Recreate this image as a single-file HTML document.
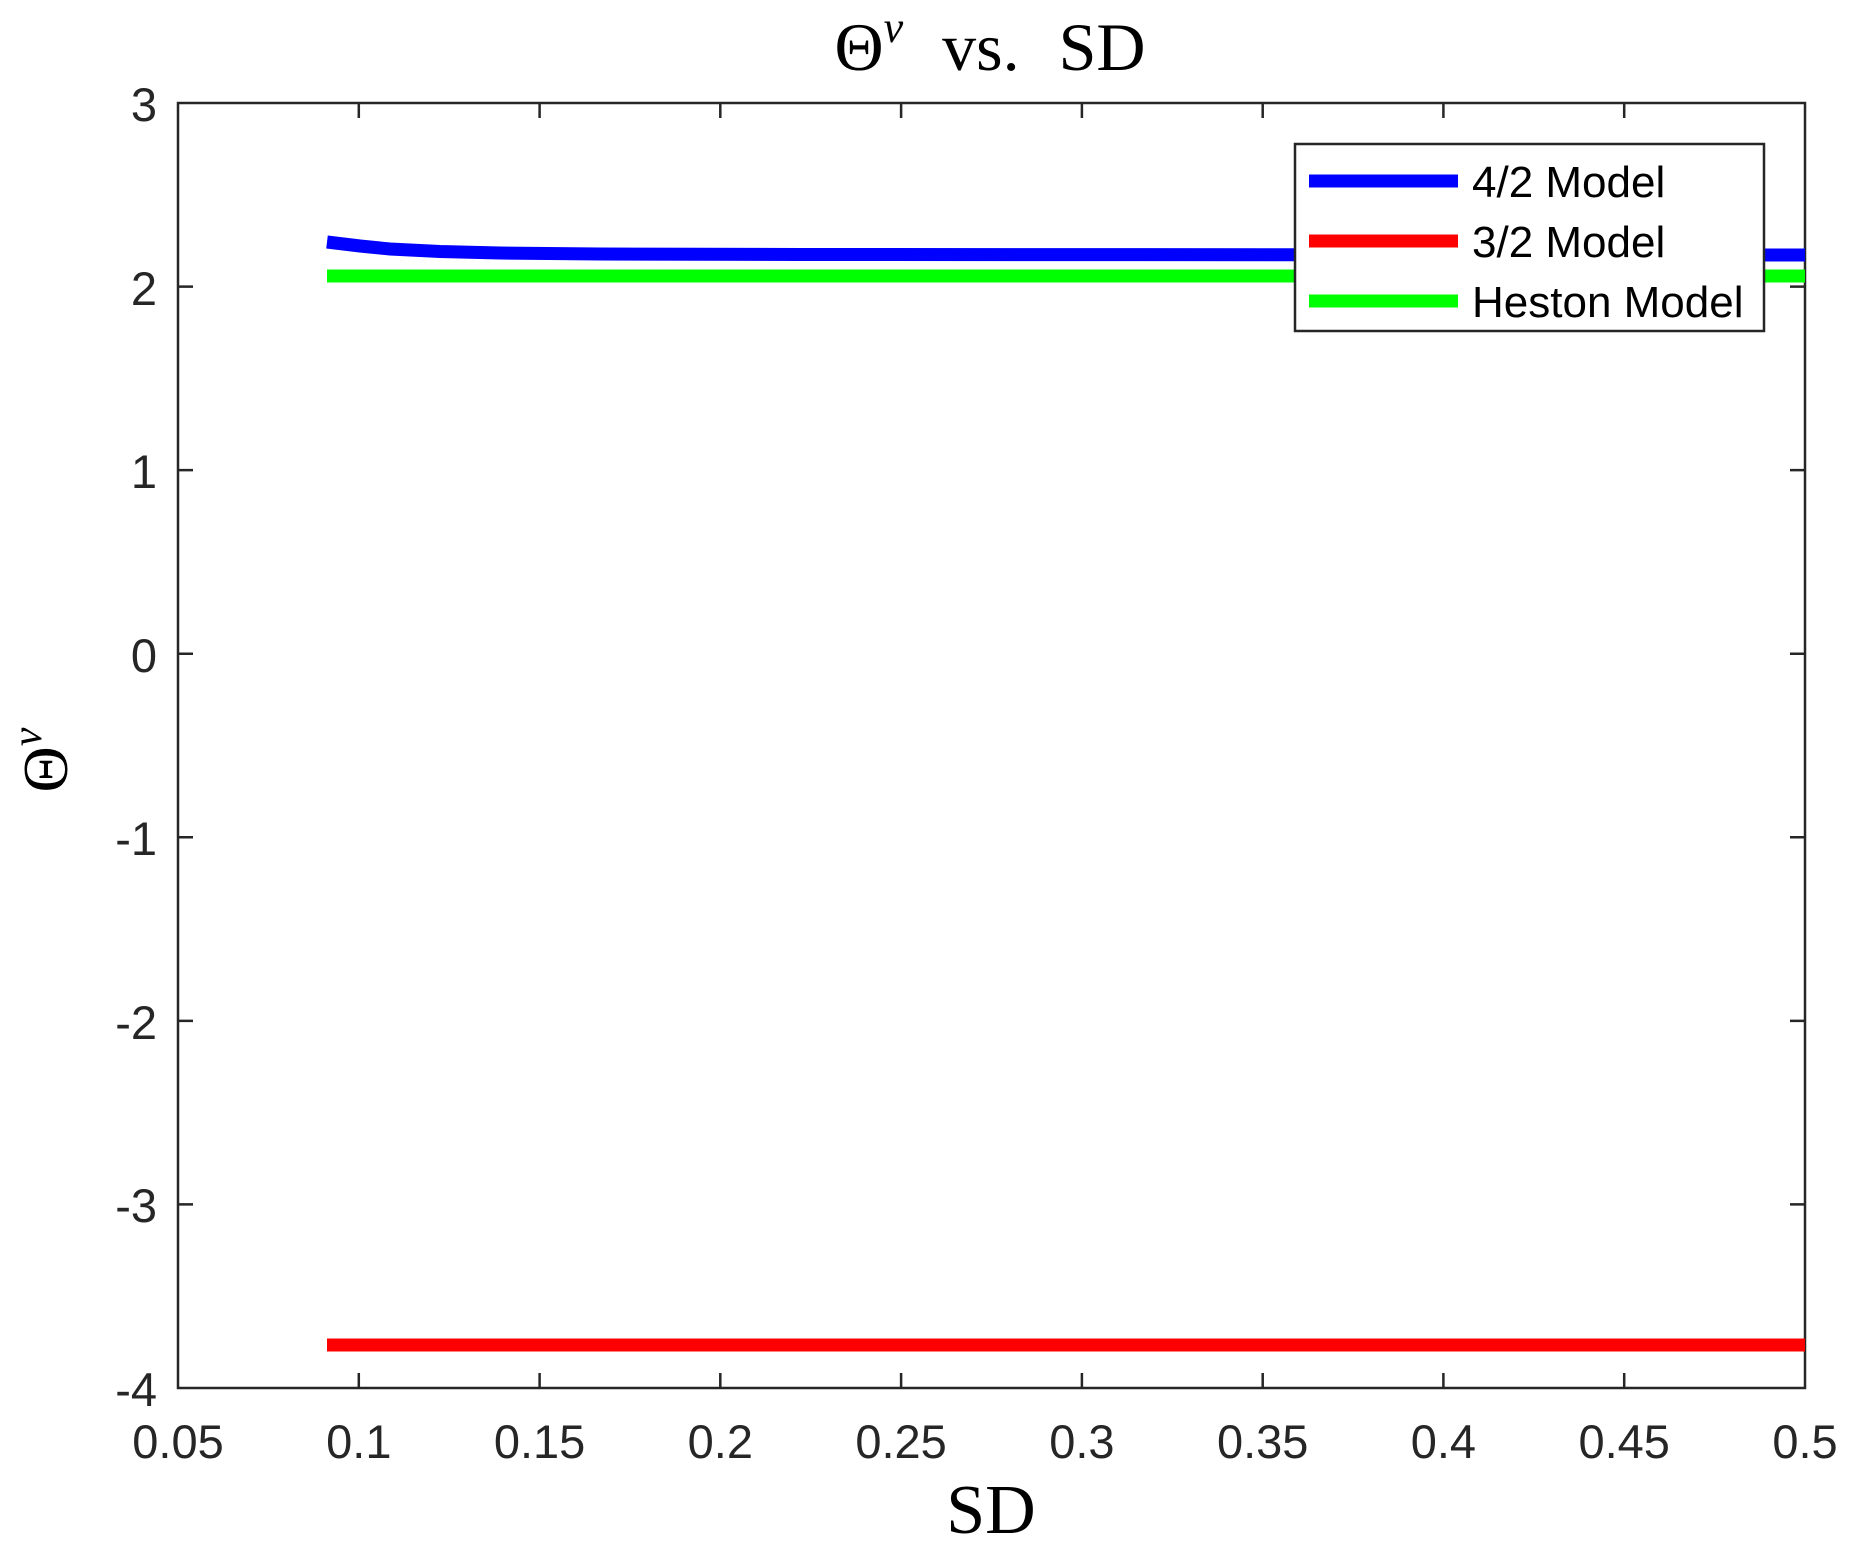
<!DOCTYPE html>
<html><head><meta charset="utf-8"><style>html,body{margin:0;padding:0;background:#fff;}svg{display:block;}</style></head>
<body>
<svg width="1853" height="1555" viewBox="0 0 1853 1555" xmlns="http://www.w3.org/2000/svg">
<rect width="1853" height="1555" fill="#fff"/>
<g stroke="#262626" stroke-width="2.5" fill="none">
<rect x="178" y="103" width="1627" height="1285"/>
<path d="M358.8 103v15M358.8 1388v-15M539.6 103v15M539.6 1388v-15M720.3 103v15M720.3 1388v-15M901.1 103v15M901.1 1388v-15M1081.9 103v15M1081.9 1388v-15M1262.7 103v15M1262.7 1388v-15M1443.4 103v15M1443.4 1388v-15M1624.2 103v15M1624.2 1388v-15"/>
<path d="M178 286.6h15M1805 286.6h-15M178 470.1h15M1805 470.1h-15M178 653.7h15M1805 653.7h-15M178 837.3h15M1805 837.3h-15M178 1020.9h15M1805 1020.9h-15M178 1204.4h15M1805 1204.4h-15"/>
</g>
<g font-family="Liberation Sans, sans-serif" font-size="47" fill="#262626" text-anchor="middle">
<text x="178" y="1458">0.05</text><text x="358.8" y="1458">0.1</text><text x="539.6" y="1458">0.15</text><text x="720.3" y="1458">0.2</text><text x="901.1" y="1458">0.25</text><text x="1081.9" y="1458">0.3</text><text x="1262.7" y="1458">0.35</text><text x="1443.4" y="1458">0.4</text><text x="1624.2" y="1458">0.45</text><text x="1805" y="1458">0.5</text>
</g>
<g font-family="Liberation Sans, sans-serif" font-size="47" fill="#262626" text-anchor="end">
<text x="157" y="121">3</text><text x="157" y="305">2</text><text x="157" y="488">1</text><text x="157" y="672">0</text><text x="157" y="855">-1</text><text x="157" y="1039">-2</text><text x="157" y="1222">-3</text><text x="157" y="1406">-4</text>
</g>
<g fill="none" stroke-width="13">
<polyline stroke="#0000ff" points="327,242 360,246 390,249 440,251.5 500,253 600,254 800,254.5 1805,255"/>
<line stroke="#00ff00" x1="327" y1="276" x2="1805" y2="276"/>
<line stroke="#ff0000" x1="327" y1="1345" x2="1805" y2="1345"/>
</g>
<rect x="1295" y="144" width="469" height="187" fill="#fff" stroke="#262626" stroke-width="2.5"/>
<g stroke-width="13">
<line stroke="#0000ff" x1="1309" y1="181" x2="1458" y2="181"/>
<line stroke="#ff0000" x1="1309" y1="241" x2="1458" y2="241"/>
<line stroke="#00ff00" x1="1309" y1="301" x2="1458" y2="301"/>
</g>
<g font-family="Liberation Sans, sans-serif" font-size="44" fill="#000">
<text x="1472" y="197">4/2 Model</text><text x="1472" y="257">3/2 Model</text><text x="1472" y="317">Heston Model</text>
</g>
<text x="990" y="70" text-anchor="middle" font-family="Liberation Serif, serif" font-size="68" fill="#000" word-spacing="22">Θ<tspan font-style="italic" font-size="44" dy="-28">v</tspan><tspan dy="28"> vs. SD</tspan></text>
<text x="991" y="1533" text-anchor="middle" font-family="Liberation Serif, serif" font-size="70" fill="#000">SD</text>
<text transform="translate(67,760) rotate(-90)" text-anchor="middle" font-family="Liberation Serif, serif" font-size="64" fill="#000">Θ<tspan font-style="italic" font-size="42" dy="-26">v</tspan></text>
</svg>
</body></html>
